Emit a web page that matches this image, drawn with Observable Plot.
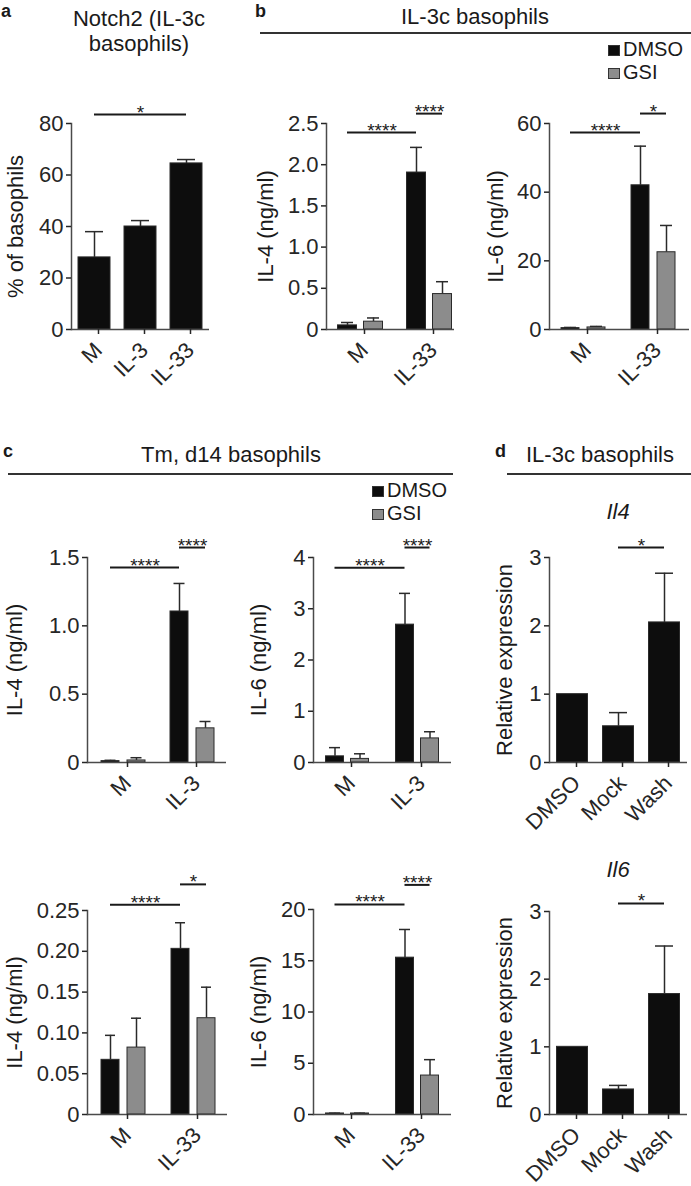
<!DOCTYPE html>
<html><head><meta charset="utf-8">
<script src="https://cdn.jsdelivr.net/npm/d3@7"></script>
<script src="https://cdn.jsdelivr.net/npm/@observablehq/plot@0.6"></script>
<style>
body{margin:0;background:#fff;}
#fig{position:relative;width:691px;height:1186px;font-family:"Liberation Sans",Arial,sans-serif;color:#1a1a1a;overflow:hidden;background:#fff}
.abs{position:absolute;white-space:nowrap}
.hr{position:absolute;height:2px;background:#333}
.sw{position:absolute;box-sizing:border-box;border:1px solid #333}
.chart{position:absolute}
</style></head>
<body><div id="fig"></div>
<script>
// ---------- shared ----------
const treatments = ["DMSO", "GSI"];
const treatmentColors = ["#0d0d0d", "#8c8c8c"];

// ---------- panel a: Notch2 ----------
const aConditions = ["M", "IL-3", "IL-33"];
const aNotch2 = [28, 40, 64.5];
const aNotch2Sem = [10, 2.3, 1.5];
const aTicks = [0, 20, 40, 60, 80];
const aTickLabels = ["0", "20", "40", "60", "80"];
const aSig = [{from: "M", fromGroup: "Notch2", to: "IL-33", toGroup: "Notch2", y: 83.5, label: "*"}];

// ---------- panel b: IL-3c basophils ----------
const bConditions = ["M", "IL-33"];
const bIL4DMSO = [0.05, 1.905];
const bIL4GSI = [0.095, 0.43];
const bIL4DMSOSem = [0.035, 0.305];
const bIL4GSISem = [0.045, 0.15];
const bIL4Ticks = [0, 0.5, 1, 1.5, 2, 2.5];
const bIL4TickLabels = ["0", "0.5", "1.0", "1.5", "2.0", "2.5"];
const bIL4Sig = [
  {from: "M", fromGroup: "DMSO", to: "IL-33", toGroup: "DMSO", y: 2.39, label: "****"},
  {from: "IL-33", fromGroup: "DMSO", to: "IL-33", toGroup: "GSI", y: 2.62, label: "****"}
];
const bIL6DMSO = [0.4, 42];
const bIL6GSI = [0.6, 22.5];
const bIL6DMSOSem = [0.2, 11.4];
const bIL6GSISem = [0.3, 7.8];
const bIL6Ticks = [0, 20, 40, 60];
const bIL6TickLabels = ["0", "20", "40", "60"];
const bIL6Sig = [
  {from: "M", fromGroup: "DMSO", to: "IL-33", toGroup: "DMSO", y: 57.4, label: "****"},
  {from: "IL-33", fromGroup: "DMSO", to: "IL-33", toGroup: "GSI", y: 62.9, label: "*"}
];

// ---------- panel c: Tm, d14 basophils ----------
const cTopConditions = ["M", "IL-3"];
const cIL4TopDMSO = [0.01, 1.105];
const cIL4TopGSI = [0.015, 0.25];
const cIL4TopDMSOSem = [0.006, 0.205];
const cIL4TopGSISem = [0.02, 0.05];
const cIL4TopTicks = [0, 0.5, 1, 1.5];
const cIL4TopTickLabels = ["0", "0.5", "1.0", "1.5"];
const cIL4TopSig = [
  {from: "M", fromGroup: "DMSO", to: "IL-3", toGroup: "DMSO", y: 1.427, label: "****"},
  {from: "IL-3", fromGroup: "DMSO", to: "IL-3", toGroup: "GSI", y: 1.573, label: "****"}
];
const cIL6TopDMSO = [0.12, 2.69];
const cIL6TopGSI = [0.07, 0.47];
const cIL6TopDMSOSem = [0.17, 0.61];
const cIL6TopGSISem = [0.1, 0.13];
const cIL6TopTicks = [0, 1, 2, 3, 4];
const cIL6TopTickLabels = ["0", "1", "2", "3", "4"];
const cIL6TopSig = [
  {from: "M", fromGroup: "DMSO", to: "IL-3", toGroup: "DMSO", y: 3.80, label: "****"},
  {from: "IL-3", fromGroup: "DMSO", to: "IL-3", toGroup: "GSI", y: 4.195, label: "****"}
];

const cBotConditions = ["M", "IL-33"];
const cIL4BotDMSO = [0.067, 0.203];
const cIL4BotGSI = [0.082, 0.118];
const cIL4BotDMSOSem = [0.030, 0.032];
const cIL4BotGSISem = [0.036, 0.038];
const cIL4BotTicks = [0, 0.05, 0.1, 0.15, 0.2, 0.25];
const cIL4BotTickLabels = ["0", "0.05", "0.10", "0.15", "0.20", "0.25"];
const cIL4BotSig = [
  {from: "M", fromGroup: "DMSO", to: "IL-33", toGroup: "DMSO", y: 0.257, label: "****"},
  {from: "IL-33", fromGroup: "DMSO", to: "IL-33", toGroup: "GSI", y: 0.282, label: "*"}
];
const cIL6BotDMSO = [0.1, 15.3];
const cIL6BotGSI = [0.1, 3.8];
const cIL6BotDMSOSem = [0.03, 2.75];
const cIL6BotGSISem = [0.03, 1.55];
const cIL6BotTicks = [0, 5, 10, 15, 20];
const cIL6BotTickLabels = ["0", "5", "10", "15", "20"];
const cIL6BotSig = [
  {from: "M", fromGroup: "DMSO", to: "IL-33", toGroup: "DMSO", y: 20.5, label: "****"},
  {from: "IL-33", fromGroup: "DMSO", to: "IL-33", toGroup: "GSI", y: 22.4, label: "****"}
];

// ---------- panel d: relative expression ----------
const dConditions = ["DMSO", "Mock", "Wash"];
const dIl4 = [1, 0.53, 2.05];
const dIl4Sem = [0, 0.2, 0.72];
const dIl6 = [1, 0.37, 1.78];
const dIl6Sem = [0, 0.06, 0.71];
const dTicks = [0, 1, 2, 3];
const dTickLabels = ["0", "1", "2", "3"];
const dIl4Sig = [{from: "Mock", fromGroup: "rel", to: "Wash", toGroup: "rel", y: 3.146, label: "*"}];
const dIl6Sig = [{from: "Mock", fromGroup: "rel", to: "Wash", toGroup: "rel", y: 3.12, label: "*"}];

// ---------- chart specs (layout in pixels) ----------
const charts = [
  {L: {left: 0, top: 95, w: 230, h: 300, fl: 71, fr: 209, ft: 123, fb: 329, c0: 94, step: 46, bw: 32, barW: 32, cap: 18, lx: 15},
   cats: aConditions, groups: ["Notch2"], colors: ["#0d0d0d"], series: [aNotch2], sems: [aNotch2Sem],
   ticks: aTicks, tickLabels: aTickLabels, yMax: 80, yLabel: "% of basophils", sig: aSig},
  {L: {left: 230, top: 95, w: 230, h: 300, fl: 326, fr: 454, ft: 123, fb: 329, c0: 360, step: 69, bw: 45, barW: 19, cap: 12, lx: 265},
   cats: bConditions, groups: treatments, colors: treatmentColors, series: [bIL4DMSO, bIL4GSI], sems: [bIL4DMSOSem, bIL4GSISem],
   ticks: bIL4Ticks, tickLabels: bIL4TickLabels, yMax: 2.5, yLabel: "IL-4 (ng/ml)", sig: bIL4Sig},
  {L: {left: 460, top: 95, w: 231, h: 300, fl: 549, fr: 689, ft: 123, fb: 329, c0: 583, step: 70, bw: 44, barW: 18, cap: 12, lx: 495},
   cats: bConditions, groups: treatments, colors: treatmentColors, series: [bIL6DMSO, bIL6GSI], sems: [bIL6DMSOSem, bIL6GSISem],
   ticks: bIL6Ticks, tickLabels: bIL6TickLabels, yMax: 60, yLabel: "IL-6 (ng/ml)", sig: bIL6Sig},
  {L: {left: 0, top: 525, w: 230, h: 305, fl: 87, fr: 226, ft: 557, fb: 762, c0: 123, step: 69, bw: 44, barW: 18, cap: 11, lx: 14},
   cats: cTopConditions, groups: treatments, colors: treatmentColors, series: [cIL4TopDMSO, cIL4TopGSI], sems: [cIL4TopDMSOSem, cIL4TopGSISem],
   ticks: cIL4TopTicks, tickLabels: cIL4TopTickLabels, yMax: 1.5, yLabel: "IL-4 (ng/ml)", sig: cIL4TopSig},
  {L: {left: 230, top: 525, w: 230, h: 305, fl: 313, fr: 451, ft: 557, fb: 762, c0: 347, step: 70, bw: 43, barW: 18, cap: 11, lx: 258},
   cats: cTopConditions, groups: treatments, colors: treatmentColors, series: [cIL6TopDMSO, cIL6TopGSI], sems: [cIL6TopDMSOSem, cIL6TopGSISem],
   ticks: cIL6TopTicks, tickLabels: cIL6TopTickLabels, yMax: 4, yLabel: "IL-6 (ng/ml)", sig: cIL6TopSig},
  {L: {left: 460, top: 525, w: 231, h: 305, fl: 549, fr: 687, ft: 557, fb: 762, c0: 572, step: 46, bw: 31, barW: 31, cap: 18, lx: 504},
   cats: dConditions, groups: ["rel"], colors: ["#0d0d0d"], series: [dIl4], sems: [dIl4Sem],
   ticks: dTicks, tickLabels: dTickLabels, yMax: 3, yLabel: "Relative expression", sig: dIl4Sig},
  {L: {left: 0, top: 875, w: 230, h: 311, fl: 87, fr: 227, ft: 910, fb: 1114, c0: 123, step: 70, bw: 44, barW: 18, cap: 10, lx: 14},
   cats: cBotConditions, groups: treatments, colors: treatmentColors, series: [cIL4BotDMSO, cIL4BotGSI], sems: [cIL4BotDMSOSem, cIL4BotGSISem],
   ticks: cIL4BotTicks, tickLabels: cIL4BotTickLabels, yMax: 0.25, yLabel: "IL-4 (ng/ml)", sig: cIL4BotSig},
  {L: {left: 230, top: 875, w: 230, h: 311, fl: 313, fr: 451, ft: 909, fb: 1114, c0: 347, step: 70, bw: 43, barW: 18, cap: 11, lx: 258},
   cats: cBotConditions, groups: treatments, colors: treatmentColors, series: [cIL6BotDMSO, cIL6BotGSI], sems: [cIL6BotDMSOSem, cIL6BotGSISem],
   ticks: cIL6BotTicks, tickLabels: cIL6BotTickLabels, yMax: 20, yLabel: "IL-6 (ng/ml)", sig: cIL6BotSig},
  {L: {left: 460, top: 875, w: 231, h: 311, fl: 549, fr: 687, ft: 911, fb: 1114, c0: 572, step: 46, bw: 31, barW: 31, cap: 18, lx: 504},
   cats: dConditions, groups: ["rel"], colors: ["#0d0d0d"], series: [dIl6], sems: [dIl6Sem],
   ticks: dTicks, tickLabels: dTickLabels, yMax: 3, yLabel: "Relative expression", sig: dIl6Sig}
];

const fig = document.getElementById("fig");
const AX = "#4a4a4a";

function makeChart(spec) {
  const {L, cats, groups, colors, series, sems, ticks, tickLabels, yMax, yLabel, sig} = spec;
  const n = cats.length;
  const len = L.fr - L.fl;
  const pi = 1 - L.bw / L.step;
  const spare = len - L.step * (n - pi);
  const po = spare / (2 * L.step);
  const align = Math.max(0, Math.min(1, ((L.c0 - L.fl) - L.bw / 2) / spare));
  const ng = groups.length;
  const barOff = (gi) => ng === 1 ? L.bw / 2 : (gi === 0 ? L.barW / 2 : L.bw - L.barW / 2);
  const marks = [];
  groups.forEach((g, gi) => {
    const rows = cats.map((c, ci) => ({cat: c, group: g, v: series[gi][ci], e: sems[gi][ci]}));
    const off = barOff(gi);
    const withErr = rows.filter((r) => r.e > 0);
    marks.push(Plot.ruleX(withErr, {x: "cat", y1: "v", y2: (r) => r.v + r.e, dx: off - L.bw / 2, stroke: "#2a2a2a", strokeWidth: 1.5}));
    marks.push(Plot.tickY(withErr, {x: "cat", y: (r) => r.v + r.e, insetLeft: off - L.cap / 2, insetRight: L.bw - off - L.cap / 2, stroke: "#2a2a2a", strokeWidth: 1.5}));
    marks.push(Plot.barY(rows, {x: "cat", y: "v", fill: colors[gi], stroke: "#2a2a2a", strokeWidth: 1,
      insetLeft: off - L.barW / 2, insetRight: L.bw - off - L.barW / 2}));
  });
  sig.forEach((s) => {
    const i1 = cats.indexOf(s.from), i2 = cats.indexOf(s.to);
    const o1 = barOff(groups.indexOf(s.fromGroup)), o2 = barOff(groups.indexOf(s.toGroup));
    marks.push(Plot.ruleY([s], {x1: "from", x2: "to", y: "y", insetLeft: o1, insetRight: L.bw - o2, stroke: "#1a1a1a", strokeWidth: 2}));
    marks.push(Plot.text([s], {x: "from", y: "y", text: "label", dx: ((i2 - i1) * L.step + o1 + o2) / 2 - L.bw / 2, dy: -2, fontSize: 19, fill: "#1a1a1a"}));
  });
  marks.push(Plot.frame({anchor: "left", stroke: AX, strokeWidth: 1.5}));
  marks.push(Plot.ruleY([0], {stroke: AX, strokeWidth: 1.5}));
  marks.push(Plot.axisY({ticks, tickFormat: (d) => tickLabels[ticks.indexOf(d)], tickSize: 5, tickPadding: 3, strokeWidth: 1.5, color: "#262626", label: null}));
  marks.push(Plot.axisX({tickSize: 5, tickPadding: 12, dx: 4, tickRotate: -45, strokeWidth: 1.5, color: "#262626", label: null}));
  marks.push(Plot.text([yLabel], {frameAnchor: "left", textAnchor: "middle", rotate: -90, dx: L.lx - L.fl, fontSize: 22, fill: "#1a1a1a"}));

  const plot = Plot.plot({
    width: L.w,
    height: L.h,
    marginLeft: L.fl - L.left,
    marginRight: L.left + L.w - L.fr,
    marginTop: L.ft - L.top,
    marginBottom: L.top + L.h - L.fb,
    x: {type: "band", domain: cats, paddingInner: pi, paddingOuter: po, align, round: false, label: null},
    y: {domain: [0, yMax], label: null},
    style: {fontSize: "22px", fontFamily: "'Liberation Sans', Arial, sans-serif", background: "transparent", overflow: "visible", color: "#1a1a1a"},
    marks
  });
  const wrap = document.createElement("div");
  wrap.className = "chart";
  wrap.style.left = L.left + "px";
  wrap.style.top = L.top + "px";
  wrap.style.width = L.w + "px";
  wrap.style.height = L.h + "px";
  wrap.appendChild(plot);
  fig.appendChild(wrap);
}
charts.forEach(makeChart);

// ---------- headings, rules, legends ----------
function addText(txt, x, baseline, size, opts = {}) {
  const lh = opts.lineHeight ?? size;
  const el = document.createElement("div");
  el.className = "abs";
  el.textContent = txt;
  el.style.fontSize = size + "px";
  el.style.lineHeight = lh + "px";
  el.style.top = (baseline - ((lh - 1.117 * size) / 2 + 0.905 * size)) + "px";
  el.style.left = x + "px";
  if (opts.anchor === "middle") el.style.transform = "translateX(-50%)";
  if (opts.bold) el.style.fontWeight = "bold";
  if (opts.italic) el.style.fontStyle = "italic";
  fig.appendChild(el);
}
function addRule(x1, x2, y) {
  const el = document.createElement("div");
  el.className = "hr";
  el.style.left = x1 + "px";
  el.style.width = (x2 - x1) + "px";
  el.style.top = y + "px";
  fig.appendChild(el);
}
function addLegend(x, y0, rowH) {
  treatments.forEach((t, i) => {
    const sw = document.createElement("div");
    sw.className = "sw";
    sw.style.left = x + "px";
    sw.style.top = (y0 + i * rowH) + "px";
    sw.style.width = "12px";
    sw.style.height = "11px";
    sw.style.background = treatmentColors[i];
    fig.appendChild(sw);
    addText(t, x + 15, y0 + i * rowH + 11, 20, {lineHeight: 20});
  });
}

addText("a", 1, 17, 18, {bold: true, lineHeight: 18});
addText("Notch2 (IL-3c", 139, 27, 22, {anchor: "middle"});
addText("basophils)", 139, 52, 22, {anchor: "middle"});

addText("b", 255, 17, 18, {bold: true, lineHeight: 18});
addText("IL-3c basophils", 475, 25, 22, {anchor: "middle"});
addRule(260, 691, 32);
addLegend(608, 45, 22.5);

addText("c", 3, 457, 18, {bold: true, lineHeight: 18});
addText("Tm, d14 basophils", 231, 463, 22, {anchor: "middle"});
addRule(8, 453, 473);
addLegend(372, 486, 22.5);

addText("d", 495, 457, 18, {bold: true, lineHeight: 18});
addText("IL-3c basophils", 600, 463, 22, {anchor: "middle"});
addRule(507, 691, 473);
addText("Il4", 618, 520, 22, {anchor: "middle", italic: true});
addText("Il6", 618, 878, 22, {anchor: "middle", italic: true});
</script></body></html>
